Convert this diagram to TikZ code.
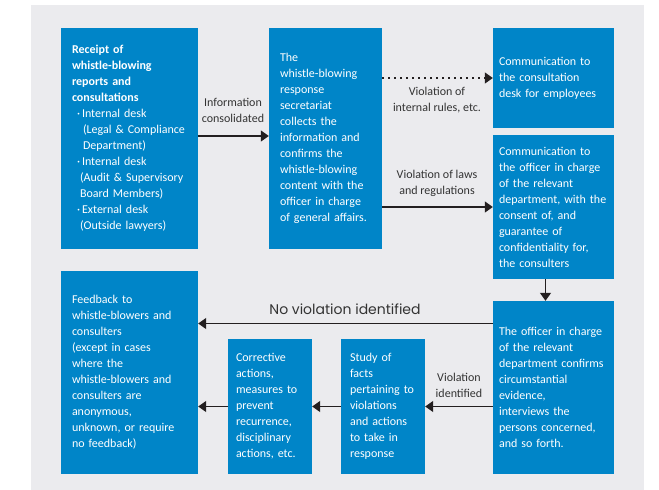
\documentclass[tikz,border=0pt]{standalone}
\usepackage{fontspec}
\setmainfont{Carlito}
\newfontfamily\geofont{Poppins}
\usepackage{xcolor}
\definecolor{boxblue}{HTML}{0085C8}
\definecolor{panelgrey}{HTML}{EBEBEE}
\definecolor{inkgrey}{HTML}{231F20}
\definecolor{labgrey}{HTML}{333333}
\usepackage{tikz}
\usetikzlibrary{positioning,arrows.meta,calc}

\begin{document}
\begin{tikzpicture}[
  x=1pt, y=-1pt,
  font=\fontsize{12}{16}\selectfont,
  blk/.style={fill=boxblue, text=white, align=left, inner ysep=0pt, inner xsep=8pt},
  lbl/.style={text=labgrey, align=center, inner sep=0pt, font=\fontsize{12}{16}\selectfont},
  arr/.style={-{Triangle[length=8pt,width=11pt]}, line width=1.3pt, color=inkgrey},
  dots/.style={line width=1.3pt, dash pattern=on 1.3pt off 4.7pt},
]
  \useasboundingbox (0,0) rectangle (659,490);
  \fill[panelgrey] (31,5) rectangle (644,490);

  % top row
  \node[blk, inner xsep=11pt, text width=115pt, minimum height=221pt] (recv) at (129.5,138.5)
    {\textbf{Receipt of\\whistle-blowing\\reports and\\consultations}\\
     \hspace*{5pt}·\,Internal desk\\
     \hspace*{11pt}(Legal \& Compliance\\
     \hspace*{11pt}Department)\\
     \hspace*{5pt}·\,Internal desk\\
     \hspace*{8pt}(Audit \& Supervisory\\
     \hspace*{8pt}Board Members)\\
     \hspace*{5pt}·\,External desk\\
     \hspace*{8pt}(Outside lawyers)};
  \node[blk, inner xsep=11pt, text width=91pt, minimum height=221pt] (secr) at (325.5,138.5)
    {The\\whistle-blowing\\response\\secretariat\\collects the\\information and\\confirms the\\whistle-blowing\\content with the\\officer in charge\\of general affairs.};
  \node[blk, inner xsep=6pt, text width=109pt, minimum height=100pt] (desk) at (553.5,78)
    {Communication to\\the consultation\\desk for employees};
  \node[blk, inner xsep=6pt, text width=109pt, minimum height=144pt] (offc) at (553.5,207)
    {Communication to\\the officer in charge\\of the relevant\\department, with the\\consent of, and\\guarantee of\\confidentiality for,\\the consulters};

  % bottom row
  \node[blk, inner xsep=6pt, text width=109pt, minimum height=173pt] (conf) at (553.5,387.5)
    {The officer in charge\\of the relevant\\department confirms\\circumstantial\\evidence,\\interviews the\\persons concerned,\\and so forth.};
  \node[blk, inner xsep=9pt, text width=66pt, minimum height=135pt] (study) at (383,406.5)
    {Study of\\facts\\pertaining to\\violations\\and actions\\to take in\\response};
  \node[blk, inner xsep=8pt, text width=68pt, minimum height=135pt] (corr) at (270,406.5)
    {Corrective\\actions,\\measures to\\prevent\\recurrence,\\disciplinary\\actions, etc.};
  \node[blk, inner xsep=11pt, text width=115pt, minimum height=203pt] (feed) at (129.5,372.5)
    {Feedback to\\whistle-blowers and\\consulters\\(except in cases\\where the\\whistle-blowers and\\consulters are\\anonymous,\\unknown, or require\\no feedback)};

  % labels
  \node[lbl] (infolab) at (233,110) {Information\\consolidated};
  \node[lbl] (rulelab) at (437,100) {Violation of\\internal rules, etc.};
  \node[lbl] (lawlab) at (437,183) {Violation of laws\\and regulations};
  \node[lbl, font=\geofont\fontsize{14}{16}\selectfont] (nvlab) at (345,309) {No violation identified};
  \node[lbl] (vilab) at (459,385) {Violation\\identified};

  % connectors
  \draw[arr] ([yshift=2.5pt]recv.east) -- ([yshift=2.5pt]secr.west);
  \draw[arr, dots] (secr.east |- desk.west) -- (desk.west);
  \draw[arr] (secr.east |- offc.west) -- (offc.west);
  \draw[arr] ([xshift=-8pt]offc.south) -- ([xshift=-8pt]conf.north);
  \coordinate (nv) at ([yshift=64pt]conf.west);
  \draw[arr] (nv) -- (nv -| feed.east);
  \coordinate (vi) at ([yshift=-19pt]conf.west);
  \draw[arr] (vi) -- (vi -| study.east);
  \draw[arr] (study.west) -- (corr.east);
  \draw[arr] (corr.west) -- (corr.west -| feed.east);
\end{tikzpicture}
\end{document}
